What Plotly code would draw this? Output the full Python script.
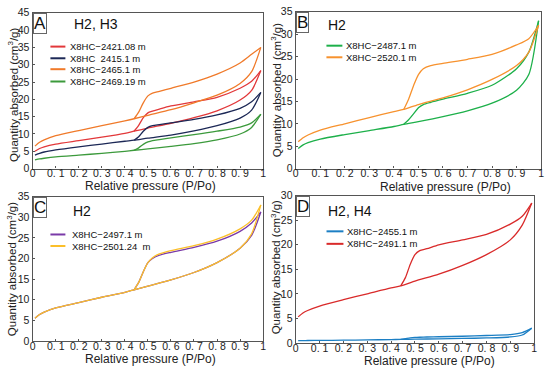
import plotly.graph_objects as go

# Relative pressure grids (adsorption: increasing, desorption: decreasing)
P_ADS = [0.01, 0.03, 0.05, 0.1, 0.2, 0.3, 0.4, 0.44, 0.5, 0.6, 0.7, 0.8, 0.9, 0.95, 0.99]
P_DES = [0.99, 0.95, 0.9, 0.8, 0.7, 0.6, 0.55, 0.52, 0.5, 0.48, 0.46, 0.44]

# Panel A
a2421_ads = [5.0, 5.8, 6.3, 7.1, 8.1, 9.1, 10.2, 10.8, 11.7, 13.1, 14.7, 16.7, 19.8, 22.6, 28.3]
a2421_des = [28.3, 25.2, 23.2, 20.6, 19.3, 18.1, 17.2, 16.6, 16.1, 14.7, 12.5, 10.8]
a2415_ads = [3.9, 4.4, 4.8, 5.4, 6.3, 7.1, 7.9, 8.2, 8.8, 9.7, 10.9, 12.4, 14.6, 16.9, 22.0]
a2415_des = [22.0, 19.3, 17.4, 15.5, 14.2, 13.2, 12.7, 12.4, 11.9, 10.8, 9.2, 8.2]
a2465_ads = [6.5, 7.6, 8.3, 9.5, 11.0, 12.4, 13.8, 14.4, 15.4, 17.0, 19.0, 21.2, 24.6, 28.0, 35.0]
a2465_des = [35.0, 33.0, 30.5, 27.3, 25.0, 23.2, 22.3, 21.8, 21.0, 19.0, 16.3, 14.4]
a2469_ads = [2.5, 2.8, 3.0, 3.4, 3.9, 4.4, 5.0, 5.3, 5.7, 6.4, 7.2, 8.3, 10.0, 11.9, 15.7]
a2469_des = [15.7, 13.2, 12.0, 10.8, 9.8, 8.9, 8.4, 8.1, 7.7, 7.0, 6.0, 5.3]

# Panel B
b2487_ads = [4.5, 5.3, 5.8, 6.6, 7.6, 8.5, 9.4, 9.9, 10.5, 11.6, 12.9, 14.6, 17.5, 21.0, 33.0]
b2487_des = [33.0, 26.0, 22.3, 18.6, 16.8, 15.5, 14.8, 14.3, 13.6, 12.2, 10.9, 9.9]
b2520_ads = [6.0, 6.9, 7.5, 8.6, 10.0, 11.4, 12.7, 13.2, 14.3, 15.8, 17.6, 19.9, 23.0, 26.0, 32.0]
b2520_des = [32.0, 29.0, 27.6, 25.5, 24.4, 23.5, 23.0, 22.3, 21.0, 18.5, 15.5, 13.2]

# Panel C
c2497_ads = [5.5, 6.4, 7.0, 8.0, 9.3, 10.6, 11.8, 12.4, 13.3, 14.8, 16.6, 19.0, 22.5, 25.6, 31.3]
c2497_des = [31.3, 28.6, 26.6, 24.2, 22.7, 21.5, 20.8, 20.0, 19.0, 16.8, 14.2, 12.4]
c2501_ads = [5.5, 6.4, 7.0, 8.0, 9.3, 10.6, 11.8, 12.4, 13.3, 14.8, 16.6, 19.0, 22.5, 26.0, 33.0]
c2501_des = [33.0, 29.3, 27.2, 24.7, 23.1, 21.9, 21.1, 20.2, 19.0, 16.8, 14.2, 12.4]

# Panel D
d2455_ads = [0.45, 0.47, 0.48, 0.5, 0.55, 0.6, 0.68, 0.7, 0.75, 0.82, 0.9, 1.0, 1.2, 1.6, 3.0]
d2455_des = [3.0, 2.1, 1.7, 1.5, 1.35, 1.25, 1.2, 1.15, 1.1, 1.0, 0.85, 0.7]
d2491_ads = [5.3, 6.1, 6.6, 7.5, 8.8, 10.0, 11.2, 11.6, 12.6, 14.0, 15.8, 18.0, 21.0, 24.0, 28.5]
d2491_des = [28.5, 25.8, 24.2, 22.1, 21.0, 20.0, 19.2, 18.8, 18.0, 16.0, 13.3, 11.6]

X_TICKVALS = [0, 0.1, 0.2, 0.3, 0.4, 0.5, 0.6, 0.7, 0.8, 0.9, 1]
X_TICKTEXT = ["0", "0. 1", "0. 2", "0. 3", "0. 4", "0. 5", "0. 6", "0. 7", "0. 8", "0. 9", "1"]
X_TITLE = "Relative pressure (P/Po)"
Y_TITLE = "Quantity absorbed (cm<sup>3</sup>/g)"

panels = {
    "A": dict(ax="", ymax=45, title="H2, H3",
              series=[("X8HC−2421.08 m", "#e2383a", a2421_ads, a2421_des),
                      ("X8HC  2415.1 m", "#1c2856", a2415_ads, a2415_des),
                      ("X8HC−2465.1 m", "#f07a2a", a2465_ads, a2465_des),
                      ("X8HC−2469.19 m", "#3c9a3c", a2469_ads, a2469_des)]),
    "B": dict(ax="2", ymax=35, title="H2",
              series=[("X8HC−2487.1 m", "#1db04a", b2487_ads, b2487_des),
                      ("X8HC−2520.1 m", "#f7922e", b2520_ads, b2520_des)]),
    "C": dict(ax="3", ymax=35, title="H2",
              series=[("X8HC−2497.1 m", "#7a3aa8", c2497_ads, c2497_des),
                      ("X8HC−2501.24  m", "#fbbf2a", c2501_ads, c2501_des)]),
    "D": dict(ax="4", ymax=30, title="H2, H4",
              series=[("X8HC−2455.1 m", "#1c7fc4", d2455_ads, d2455_des),
                      ("X8HC−2491.1 m", "#d92a2a", d2491_ads, d2491_des)]),
}

W, H = 550, 375
def px(x):
    return x / W
def py(y):
    return 1 - y / H

dom = {
    "A": dict(x=[px(30), px(263)], y=[py(168), py(7)]),
    "B": dict(x=[px(296), px(544)], y=[py(168), py(6)]),
    "C": dict(x=[px(30), px(263)], y=[py(346), py(197)]),
    "D": dict(x=[px(296), px(537)], y=[py(348), py(196)]),
}
xtitle_pos = {"A": (149, 186), "B": (447, 187), "C": (149, 365), "D": (431, 367)}
ytitle_pos = {"A": (10, 92), "B": (276, 87), "C": (9, 272), "D": (276, 270)}
title_pos = {"A": (0.17, 0.93), "B": (0.125, 0.915), "C": (0.165, 0.90), "D": (0.125, 0.895)}
leg = {
    "A": dict(x0=0.077, x1=0.142, xt=0.155, ys=[0.783, 0.708, 0.638, 0.559]),
    "B": dict(x0=0.125, x1=0.19, xt=0.198, ys=[0.784, 0.71]),
    "C": dict(x0=0.077, x1=0.142, xt=0.16, ys=[0.738, 0.658]),
    "D": dict(x0=0.129, x1=0.2, xt=0.205, ys=[0.758, 0.673]),
}

FONT = "Liberation Sans, Arial, sans-serif"
fig = go.Figure()
annotations = []
shapes = []

for key, p in panels.items():
    ax = p["ax"]
    xa, ya = "x" + ax, "y" + ax
    for name, color, ads, des in p["series"]:
        fig.add_trace(go.Scatter(x=P_ADS, y=ads, mode="lines", xaxis=xa, yaxis=ya,
                                 line=dict(color=color, width=1.3, shape="spline", smoothing=0.7),
                                 showlegend=False, name=name))
        fig.add_trace(go.Scatter(x=P_DES, y=des, mode="lines", xaxis=xa, yaxis=ya,
                                 line=dict(color=color, width=1.3, shape="spline", smoothing=0.7),
                                 showlegend=False, name=name))
    axis_common = dict(showline=True, linecolor="#555555", linewidth=1.3, mirror=True,
                       ticks="inside", ticklen=2, tickcolor="#555555", showgrid=False,
                       zeroline=False, tickfont=dict(family=FONT, size=10.5, color="#222"))
    fig.layout["xaxis" + ax] = dict(domain=dom[key]["x"], range=[0, 1], anchor=ya,
                                    tickvals=X_TICKVALS, ticktext=X_TICKTEXT,
                                    ticklabelstandoff=-5, **axis_common)
    fig.layout["yaxis" + ax] = dict(domain=dom[key]["y"], range=[0, p["ymax"]], anchor=xa,
                                    dtick=5, **axis_common)
    dref = ("x" + ax + " domain") if ax else "x domain"
    yref = ("y" + ax + " domain") if ax else "y domain"
    # axis titles
    tx, ty = xtitle_pos[key]
    annotations.append(dict(text=X_TITLE, x=px(tx), y=py(ty), xref="paper", yref="paper",
                            xanchor="center", yanchor="middle", showarrow=False,
                            font=dict(family=FONT, size=12, color="#222")))
    tx, ty = ytitle_pos[key]
    annotations.append(dict(text=Y_TITLE, x=px(tx), y=py(ty), xref="paper", yref="paper",
                            xanchor="center", yanchor="middle", showarrow=False, textangle=-90,
                            font=dict(family=FONT, size=11.5, color="#222")))
    # panel letter box
    annotations.append(dict(text=key, x=0, y=1, xref=dref, yref=yref, xanchor="left", yanchor="top",
                            showarrow=False, font=dict(family=FONT, size=17, color="#111"),
                            bordercolor="#666", borderwidth=1, borderpad=0, bgcolor="white"))
    tx, ty = title_pos[key]
    annotations.append(dict(text=p["title"], x=tx, y=ty, xref=dref, yref=yref, xanchor="left",
                            yanchor="middle", showarrow=False,
                            font=dict(family=FONT, size=14, color="#111")))
    L = leg[key]
    for (name, color, _, _), yy in zip(p["series"], L["ys"]):
        shapes.append(dict(type="line", xref=dref, yref=yref, x0=L["x0"], x1=L["x1"], y0=yy, y1=yy,
                           line=dict(color=color, width=2)))
        annotations.append(dict(text=name, x=L["xt"], y=yy, xref=dref, yref=yref, xanchor="left",
                                yanchor="middle", showarrow=False,
                                font=dict(family=FONT, size=9.5, color="#111")))

fig.update_layout(width=W, height=H, margin=dict(l=0, r=0, t=0, b=0),
                  paper_bgcolor="white", plot_bgcolor="white",
                  annotations=annotations, shapes=shapes, showlegend=False)
fig.write_html("out.html", config={"displayModeBar": False},
               post_script="document.body.style.margin='0px';")
